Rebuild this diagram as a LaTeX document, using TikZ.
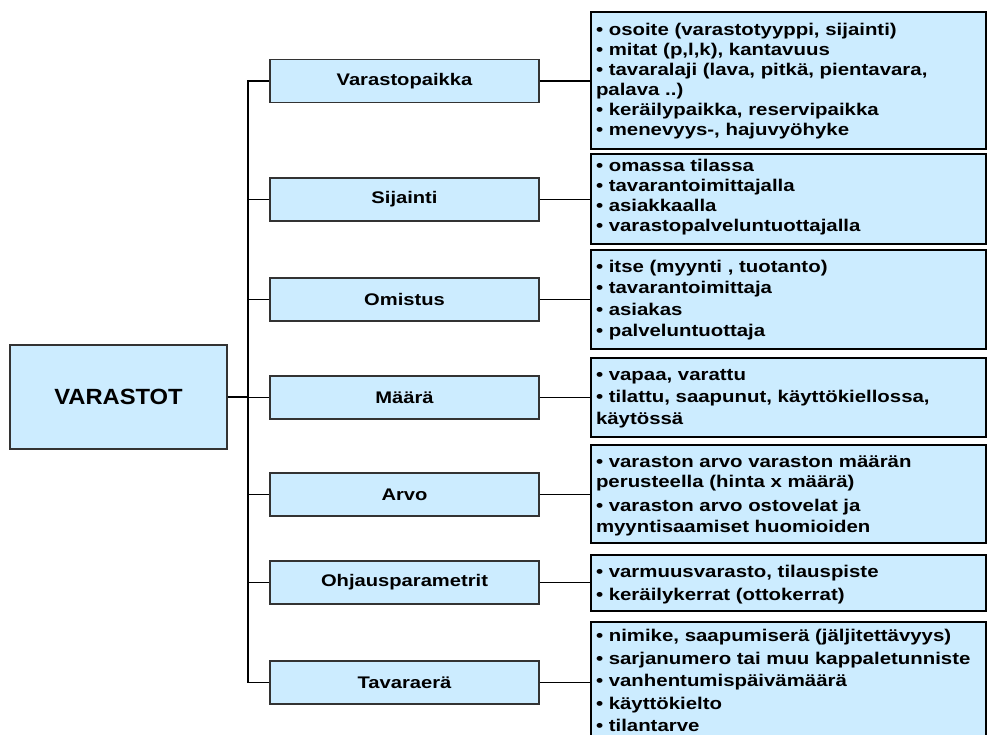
\documentclass[tikz,border=0pt]{standalone}
\usepackage{fontspec}
\setmainfont{Liberation Sans}[FakeStretch=1.2]
\newfontfamily\hubfont{Liberation Sans}[FakeStretch=1.08]
\definecolor{boxblue}{HTML}{CCECFF}

\tikzset{
  hub/.style  = {draw=black!80, fill=boxblue, line width=1.2pt,
                 minimum width=217pt, minimum height=104pt,
                 font=\hubfont\bfseries\fontsize{22}{26}\selectfont},
  mid/.style  = {draw=black!80, fill=boxblue, line width=1.2pt,
                 minimum width=269pt, minimum height=43pt,
                 font=\bfseries\fontsize{16.8}{20}\selectfont},
  info/.style = {draw=black, fill=boxblue, line width=2pt, anchor=north west,
                 text width=385pt, inner xsep=5pt, inner ysep=0pt, outer sep=0pt,
                 align=left, text height=22.5pt,
                 font=\bfseries\fontsize{17}{20}\selectfont},
  link/.style = {line width=1.2pt},
}

\begin{document}
\begin{tikzpicture}[x=1pt, y=-1pt]
    \useasboundingbox (0,0) rectangle (987,735);

    \node (varastot) [hub] at (118.5,397) {VARASTOT};

    \node (paikka)   [mid] at (404.5,81)    {Varastopaikka};
    \node (sijainti) [mid] at (404.5,199.5) {Sijainti};
    \node (omistus)  [mid] at (404.5,299.5) {Omistus};
    \node (maara)    [mid] at (404.5,397.5) {Määrä};
    \node (arvo)     [mid] at (404.5,494.5) {Arvo};
    \node (ohjaus)   [mid] at (404.5,582.5) {Ohjausparametrit};
    \node (era)      [mid] at (404.5,682.5) {Tavaraerä};

    \node (paikkatiedot) [info, text height=23.5pt, text depth=113.5pt] at (591,12)
        {• osoite (varastotyyppi, sijainti)\\
         • mitat (p,l,k), kantavuus\\
         • tavaralaji (lava, pitkä, pientavara,\\
         palava ..)\\
         • keräilypaikka, reservipaikka\\[0.5pt]
         • menevyys-, hajuvyöhyke};
    \node (sijaintitiedot) [info, text height=17.5pt, text depth=72.5pt] at (591,154)
        {• omassa tilassa\\
         • tavarantoimittajalla\\
         • asiakkaalla\\
         • varastopalveluntuottajalla};
    \node (omistustiedot) [info, text depth=76.5pt] at (591,250)
        {• itse (myynti , tuotanto)\\[1.3pt]
         • tavarantoimittaja\\[1.3pt]
         • asiakas\\[1.3pt]
         • palveluntuottaja};
    \node (maaratiedot) [info, text depth=56.5pt] at (591,358)
        {• vapaa, varattu\\[2pt]
         • tilattu, saapunut, käyttökiellossa,\\[2pt]
         käytössä};
    \node (arvotiedot) [info, text depth=75.5pt] at (591,445)
        {• varaston arvo varaston määrän\\
         perusteella (hinta x määrä)\\[4pt]
         • varaston arvo ostovelat ja\\[1pt]
         myyntisaamiset huomioiden};
    \node (ohjaustiedot) [info, text depth=33.5pt] at (591,555)
        {• varmuusvarasto, tilauspiste\\[3pt]
         • keräilykerrat (ottokerrat)};
    \node (eratiedot) [info, text height=19.5pt, text depth=110.5pt] at (591,622)
        {• nimike, saapumiserä (jäljitettävyys)\\[2.5pt]
         • sarjanumero tai muu kappaletunniste\\[2.5pt]
         • vanhentumispäivämäärä\\[2.5pt]
         • käyttökielto\\[2.5pt]
         • tilantarve};

    % haarat
    \coordinate (fork) at (248,397);
    \draw[link, line width=2pt] (varastot.east) -- (fork);
    \foreach \m in {paikka, sijainti, omistus, maara, arvo, ohjaus, era}
        \draw[link] (fork) |- (\m.west);

    \foreach \m/\t in {paikka/paikkatiedot, sijainti/sijaintitiedot,
                       omistus/omistustiedot, maara/maaratiedot,
                       arvo/arvotiedot, ohjaus/ohjaustiedot, era/eratiedot}
        \draw[link] (\m.east) -- (\m.east -| \t.west);
\end{tikzpicture}
\end{document}
